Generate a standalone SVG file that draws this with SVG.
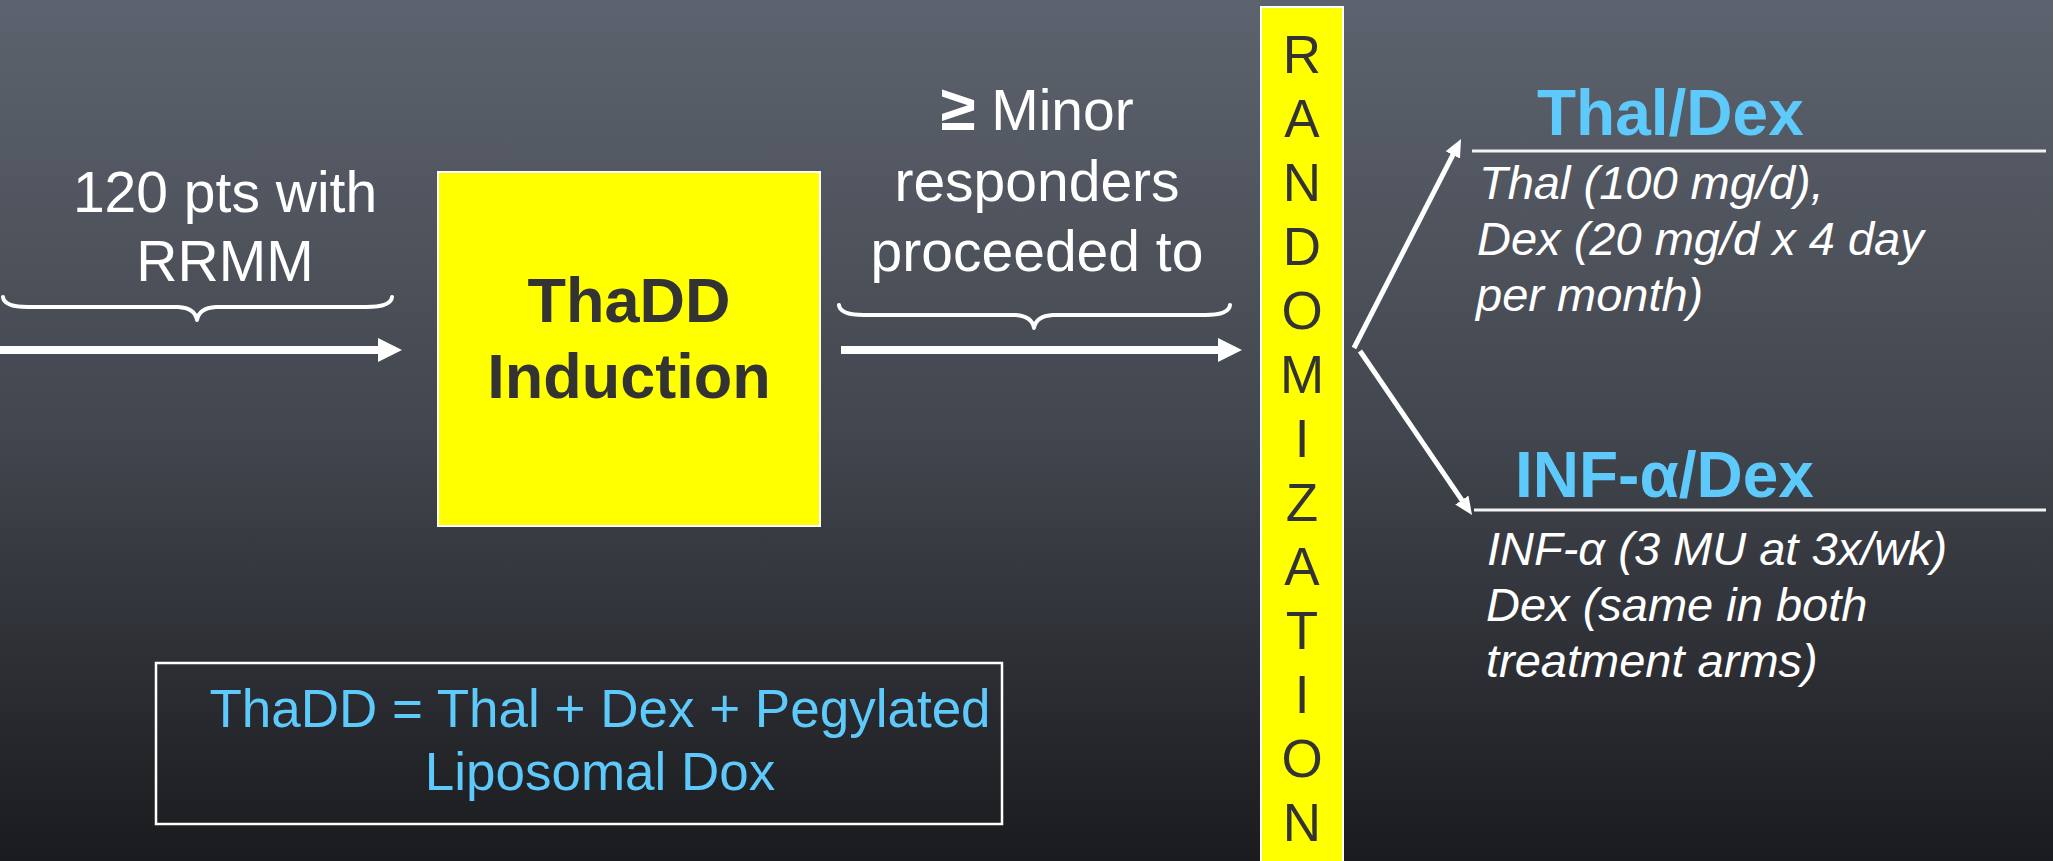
<svg xmlns="http://www.w3.org/2000/svg" width="2053" height="861" viewBox="0 0 2053 861">
<defs>
<linearGradient id="bg" x1="0" y1="0" x2="0" y2="1">
<stop offset="0" stop-color="#5d636e"/>
<stop offset="0.5" stop-color="#42464e"/>
<stop offset="1" stop-color="#1a1b1e"/>
</linearGradient>
<marker id="bigHead" viewBox="0 0 24 24" markerWidth="24" markerHeight="24" refX="0" refY="12" orient="auto" markerUnits="userSpaceOnUse">
<path d="M0,0 L24,12 L0,24 z" fill="#ffffff"/>
</marker>
<marker id="smallHead" viewBox="0 0 18 16" markerWidth="18" markerHeight="16" refX="1" refY="8" orient="auto" markerUnits="userSpaceOnUse">
<path d="M0,0 L18,8 L0,16 z" fill="#ffffff"/>
</marker>
<style>
.w{font-family:"Liberation Sans",Arial,sans-serif;fill:#ffffff;font-size:57px;text-anchor:middle}
.dark{font-family:"Liberation Sans",Arial,sans-serif;fill:#333333}
.arm{font-family:"Liberation Sans",Arial,sans-serif;fill:#5ec9fb;font-size:64px;font-weight:bold}
.it{font-family:"Liberation Sans",Arial,sans-serif;fill:#ffffff;font-size:47px;font-style:italic}
.note{font-family:"Liberation Sans",Arial,sans-serif;fill:#5ec9fb;font-size:53px;text-anchor:middle}
.yel{fill:#ffff00;stroke:#ffffff;stroke-width:2}
.thick{stroke:#ffffff;stroke-width:8;fill:none}
.thin{stroke:#ffffff;stroke-width:5;fill:none}
.rule{stroke:#f2f2f2;stroke-width:3}
.brace{stroke:#ffffff;stroke-width:4;fill:none;stroke-linecap:round;stroke-linejoin:round}
</style>
</defs>
<rect x="0" y="0" width="2053" height="861" fill="url(#bg)"/>

<g id="label-120pts">
<text class="w" x="225" y="212">120 pts with</text>
<text class="w" x="225" y="281">RRMM</text>
<path class="brace" d="M3,297 Q4,307 28,307 L178,307 Q195,308 197,320 Q199,308 216,307 L366,307 Q391,307 392,297"/>
</g>

<g id="node-induction">
<rect class="yel" x="438" y="172" width="382" height="354"/>
<text class="dark" x="629" y="322" font-size="63" font-weight="bold" text-anchor="middle">ThaDD</text>
<text class="dark" x="629" y="398" font-size="63" font-weight="bold" text-anchor="middle">Induction</text>
</g>

<g id="label-responders">
<text class="w" x="1037" y="130"><tspan font-weight="bold" font-size="64">≥</tspan> Minor</text>
<text class="w" x="1037" y="201">responders</text>
<text class="w" x="1037" y="271">proceeded to</text>
<path class="brace" d="M839,305 Q840,315 864,315 L1015,315 Q1032,316 1034,328 Q1036,316 1053,315 L1205,315 Q1229,315 1230,305"/>
</g>

<g id="node-randomization">
<rect class="yel" x="1261" y="7" width="82" height="860"/>
<g class="dark" font-size="53" text-anchor="middle">
<text x="1302" y="73">R</text>
<text x="1302" y="137">A</text>
<text x="1302" y="201">N</text>
<text x="1302" y="265">D</text>
<text x="1302" y="329">O</text>
<text x="1302" y="393">M</text>
<text x="1302" y="457">I</text>
<text x="1302" y="521">Z</text>
<text x="1302" y="585">A</text>
<text x="1302" y="649">T</text>
<text x="1302" y="713">I</text>
<text x="1302" y="777">O</text>
<text x="1302" y="841">N</text>
</g>
</g>

<g id="node-thaldex">
<text class="arm" x="1537" y="135">Thal/Dex</text>
<line class="rule" x1="1472" y1="151" x2="2046" y2="151"/>
<text class="it" x="1479" y="199">Thal (100 mg/d),</text>
<text class="it" x="1477" y="255">Dex (20 mg/d x 4 day</text>
<text class="it" x="1476" y="311">per month)</text>
</g>

<g id="node-infdex">
<text class="arm" x="1515" y="497">INF-α/Dex</text>
<line class="rule" x1="1474" y1="510" x2="2046" y2="510"/>
<text class="it" x="1487" y="565">INF-α (3 MU at 3x/wk)</text>
<text class="it" x="1486" y="621">Dex (same in both</text>
<text class="it" x="1486" y="677">treatment arms)</text>
</g>

<g id="node-legend">
<rect x="156" y="663" width="846" height="161" fill="none" stroke="#ffffff" stroke-width="2.5"/>
<text class="note" x="600" y="727">ThaDD = Thal + Dex + Pegylated</text>
<text class="note" x="600" y="790">Liposomal Dox</text>
</g>

<g id="connectors">
<line class="thick" x1="0" y1="350" x2="378" y2="350" marker-end="url(#bigHead)"/>
<line class="thick" x1="841" y1="350" x2="1218" y2="350" marker-end="url(#bigHead)"/>
<line class="thin" x1="1354" y1="348" x2="1453.3" y2="154.1" marker-end="url(#smallHead)"/>
<line class="thin" x1="1360" y1="351" x2="1462.4" y2="500.9" marker-end="url(#smallHead)"/>
</g>
</svg>
